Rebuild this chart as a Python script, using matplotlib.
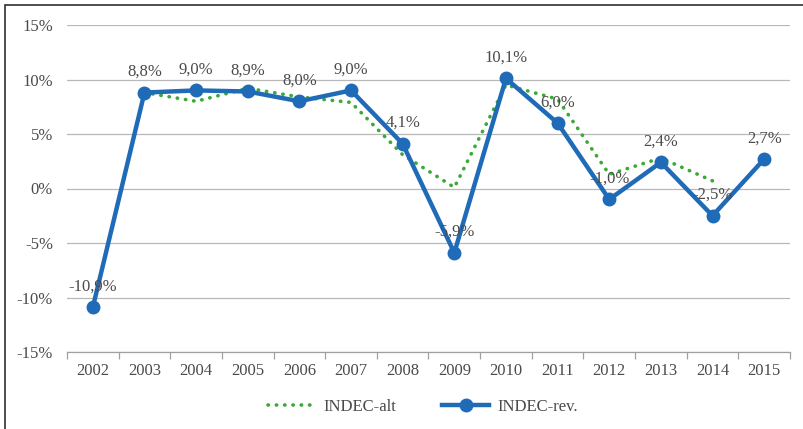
import numpy as np
import matplotlib.pyplot as plt
from matplotlib.patches import Rectangle
from matplotlib.ticker import FixedLocator

plt.rcParams['font.family'] = ['Liberation Serif', 'DejaVu Serif']

years = ['2002', '2003', '2004', '2005', '2006', '2007', '2008',
         '2009', '2010', '2011', '2012', '2013', '2014', '2015']
indec_rev = [-10.9, 8.8, 9.0, 8.9, 8.0, 9.0, 4.1, -5.9, 10.1, 6.0, -1.0, 2.4, -2.5, 2.7]
# alternative series covers 2003-2014 only
indec_alt = [np.nan, 8.8, 8.0, 9.2, 8.4, 7.9, 3.1, 0.1, 9.5, 8.2, 1.3, 2.8, 0.7, np.nan]
rev_labels = ['-10,9%', '8,8%', '9,0%', '8,9%', '8,0%', '9,0%', '4,1%',
              '-5,9%', '10,1%', '6,0%', '-1,0%', '2,4%', '-2,5%', '2,7%']
yticks = [-15, -10, -5, 0, 5, 10, 15]

W, H = 804, 429
fig = plt.figure(figsize=(W / 100, H / 100), dpi=100)
ax = fig.add_axes([67 / W, 1 - 352 / H, (790 - 67) / W, (352 - 25) / H])

txt = '#4a4a4a'
blue = '#1f6bb8'
green = '#3aa935'

x = np.arange(len(years))
ax.plot(x, indec_alt, color=green, lw=2.6, linestyle=(0, (0.1, 2.2)),
        dash_capstyle='round', label='INDEC-alt', zorder=2)
ax.plot(x, indec_rev, color=blue, lw=3.2, marker='o', markersize=9,
        label='INDEC-rev.', zorder=3)

for xi, v, s in zip(x, indec_rev, rev_labels):
    ax.annotate(s, (xi, v), xytext=(0, 15), textcoords='offset points',
                ha='center', va='center', fontsize=12, color=txt, zorder=4)

ax.set_xlim(-0.5, len(years) - 0.5)
ax.set_ylim(-15, 15)
ax.set_yticks(yticks)
ax.set_yticklabels([f'{t}%' for t in yticks])
ax.set_xticks(x)
ax.set_xticklabels(years)
ax.xaxis.set_minor_locator(FixedLocator(np.arange(-0.5, len(years), 1.0)))
ax.tick_params(axis='x', which='major', length=0, pad=8, labelsize=12, labelcolor=txt)
ax.tick_params(axis='x', which='minor', length=5, color='#a0a0a0', width=0.9)
ax.tick_params(axis='y', length=0, pad=10, labelsize=12, labelcolor=txt)

ax.grid(axis='y', color='#b8b8b8', lw=0.9, zorder=0)
ax.set_axisbelow(True)
for side in ['top', 'right', 'left']:
    ax.spines[side].set_visible(False)
ax.spines['bottom'].set_color('#a0a0a0')
ax.spines['bottom'].set_linewidth(0.9)

leg = fig.legend(loc='center', bbox_to_anchor=(423 / W, 1 - 407 / H), ncol=2,
                 frameon=False, fontsize=12, handlelength=2.8, columnspacing=2.8,
                 handletextpad=0.5)
for t in leg.get_texts():
    t.set_color(txt)

# outer frame (only left and top edges visible)
fig.patches.append(Rectangle((5 / W, -0.1), 1.2, 1 - 5 / H + 0.1,
                             transform=fig.transFigure, fill=False,
                             edgecolor='#303030', lw=1.2))

fig.savefig('out.png', dpi=100)
